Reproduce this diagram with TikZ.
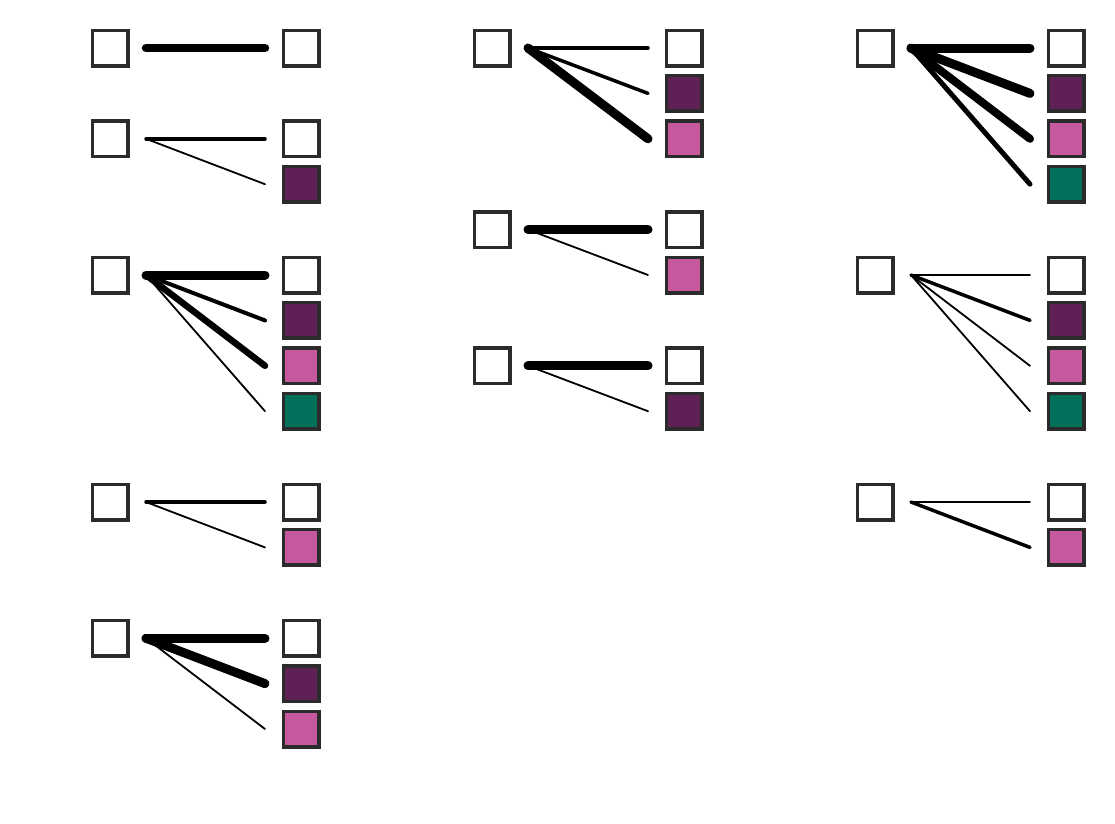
\documentclass[tikz,border=0pt]{standalone}
\usepackage{xcolor}
\usepackage{tikz}
\usetikzlibrary{positioning, calc}

\definecolor{frame}{HTML}{2B2B2B}
\definecolor{plumc}{HTML}{5F2155}
\definecolor{rosec}{HTML}{C6599E}
\definecolor{pinec}{HTML}{00705B}

\begin{document}
\begin{tikzpicture}[
    x=1pt, y=-1pt,
    box/.style={rectangle, draw=frame, line width=3.5pt, fill=white, minimum size=35.5pt, inner sep=0pt},
    stack/.style={box, below=6.4pt of #1},
    link/.style={line cap=round, black, line width=#1},
]
\useasboundingbox (0,0) rectangle (1115,823);

% column 1
\node[box] (s1a) at (110,48) {};
\node[box] (s1a-w) at (301,48) {};
\draw[link=8.5pt] ([xshift=16.5pt]s1a.east) -- ([xshift=-16.5pt]s1a-w.west);

\node[box] (s1b) at (110,138.8) {};
\node[box] (s1b-w) at (301,138.8) {};
\node[stack=s1b-w, fill=plumc] (s1b-p) {};
\coordinate (h1b) at ([xshift=16.5pt]s1b.east);
\draw[link=3.5pt] (h1b) -- ([xshift=-16.5pt]s1b-w.west);
\draw[link=1.8pt] (h1b) -- ([xshift=-16.5pt]s1b-p.west);

\node[box] (s1c) at (110,275) {};
\node[box] (s1c-w) at (301,275) {};
\node[stack=s1c-w, fill=plumc] (s1c-p) {};
\node[stack=s1c-p, fill=rosec] (s1c-r) {};
\node[stack=s1c-r, fill=pinec] (s1c-g) {};
\coordinate (h1c) at ([xshift=16.5pt]s1c.east);
\draw[link=9pt] (h1c) -- ([xshift=-16.5pt]s1c-w.west);
\draw[link=4pt] (h1c) -- ([xshift=-16.5pt]s1c-p.west);
\draw[link=6.5pt] (h1c) -- ([xshift=-16.5pt]s1c-r.west);
\draw[link=1.8pt] (h1c) -- ([xshift=-16.5pt]s1c-g.west);

\node[box] (s1d) at (110,502) {};
\node[box] (s1d-w) at (301,502) {};
\node[stack=s1d-w, fill=rosec] (s1d-r) {};
\coordinate (h1d) at ([xshift=16.5pt]s1d.east);
\draw[link=3.5pt] (h1d) -- ([xshift=-16.5pt]s1d-w.west);
\draw[link=1.8pt] (h1d) -- ([xshift=-16.5pt]s1d-r.west);

\node[box] (s1e) at (110,638.2) {};
\node[box] (s1e-w) at (301,638.2) {};
\node[stack=s1e-w, fill=plumc] (s1e-p) {};
\node[stack=s1e-p, fill=rosec] (s1e-r) {};
\coordinate (h1e) at ([xshift=16.5pt]s1e.east);
\draw[link=9pt] (h1e) -- ([xshift=-16.5pt]s1e-w.west);
\draw[link=9pt] (h1e) -- ([xshift=-16.5pt]s1e-p.west);
\draw[link=1.8pt] (h1e) -- ([xshift=-16.5pt]s1e-r.west);

% column 2
\node[box] (s2a) at (492,48) {};
\node[box] (s2a-w) at (684,48) {};
\node[stack=s2a-w, fill=plumc] (s2a-p) {};
\node[stack=s2a-p, fill=rosec] (s2a-r) {};
\coordinate (h2a) at ([xshift=16.5pt]s2a.east);
\draw[link=3.5pt] (h2a) -- ([xshift=-16.5pt]s2a-w.west);
\draw[link=3.5pt] (h2a) -- ([xshift=-16.5pt]s2a-p.west);
\draw[link=9pt] (h2a) -- ([xshift=-16.5pt]s2a-r.west);

\node[box] (s2b) at (492,229.6) {};
\node[box] (s2b-w) at (684,229.6) {};
\node[stack=s2b-w, fill=rosec] (s2b-r) {};
\coordinate (h2b) at ([xshift=16.5pt]s2b.east);
\draw[link=9pt] (h2b) -- ([xshift=-16.5pt]s2b-w.west);
\draw[link=1.8pt] (h2b) -- ([xshift=-16.5pt]s2b-r.west);

\node[box] (s2c) at (492,365.8) {};
\node[box] (s2c-w) at (684,365.8) {};
\node[stack=s2c-w, fill=plumc] (s2c-p) {};
\coordinate (h2c) at ([xshift=16.5pt]s2c.east);
\draw[link=9pt] (h2c) -- ([xshift=-16.5pt]s2c-w.west);
\draw[link=1.8pt] (h2c) -- ([xshift=-16.5pt]s2c-p.west);

% column 3
\node[box] (s3a) at (875,48) {};
\node[box] (s3a-w) at (1066,48) {};
\node[stack=s3a-w, fill=plumc] (s3a-p) {};
\node[stack=s3a-p, fill=rosec] (s3a-r) {};
\node[stack=s3a-r, fill=pinec] (s3a-g) {};
\coordinate (h3a) at ([xshift=16.5pt]s3a.east);
\draw[link=9pt] (h3a) -- ([xshift=-16.5pt]s3a-w.west);
\draw[link=9pt] (h3a) -- ([xshift=-16.5pt]s3a-p.west);
\draw[link=8pt] (h3a) -- ([xshift=-16.5pt]s3a-r.west);
\draw[link=5pt] (h3a) -- ([xshift=-16.5pt]s3a-g.west);

\node[box] (s3b) at (875,275) {};
\node[box] (s3b-w) at (1066,275) {};
\node[stack=s3b-w, fill=plumc] (s3b-p) {};
\node[stack=s3b-p, fill=rosec] (s3b-r) {};
\node[stack=s3b-r, fill=pinec] (s3b-g) {};
\coordinate (h3b) at ([xshift=16.5pt]s3b.east);
\draw[link=1.8pt] (h3b) -- ([xshift=-16.5pt]s3b-w.west);
\draw[link=3.5pt] (h3b) -- ([xshift=-16.5pt]s3b-p.west);
\draw[link=1.8pt] (h3b) -- ([xshift=-16.5pt]s3b-r.west);
\draw[link=1.8pt] (h3b) -- ([xshift=-16.5pt]s3b-g.west);

\node[box] (s3c) at (875,502) {};
\node[box] (s3c-w) at (1066,502) {};
\node[stack=s3c-w, fill=rosec] (s3c-r) {};
\coordinate (h3c) at ([xshift=16.5pt]s3c.east);
\draw[link=1.8pt] (h3c) -- ([xshift=-16.5pt]s3c-w.west);
\draw[link=3.5pt] (h3c) -- ([xshift=-16.5pt]s3c-r.west);
\end{tikzpicture}
\end{document}
